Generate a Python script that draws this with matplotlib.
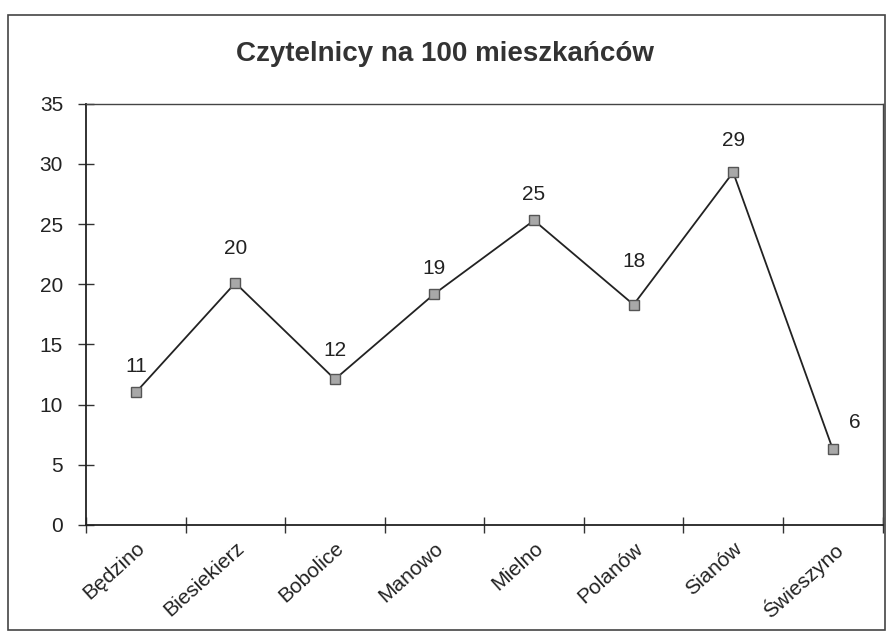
import matplotlib.pyplot as plt
from matplotlib.patches import Rectangle

plt.rcParams['font.family'] = ['Liberation Sans', 'DejaVu Sans']

gminy = ['Będzino', 'Biesiekierz', 'Bobolice', 'Manowo', 'Mielno',
         'Polanów', 'Sianów', 'Świeszyno']
czytelnicy = [11.0, 20.1, 12.1, 19.2, 25.3, 18.3, 29.3, 6.3]
etykiety = ['11', '20', '12', '19', '25', '18', '29', '6']

fig = plt.figure(figsize=(8.89, 6.44), dpi=100)
fig.patch.set_facecolor('white')

# ramka calego wykresu
fig.patches.append(Rectangle((8 / 889, 1 - 630 / 644), 877 / 889, 615 / 644,
                             transform=fig.transFigure, fill=False,
                             edgecolor='#444444', linewidth=1.2))

ax = fig.add_axes([0.0967, 0.185, 0.896, 0.654])
x = list(range(len(gminy)))
ax.plot(x, czytelnicy, color='#222222', linewidth=1.3, marker='s',
        markersize=7, markerfacecolor='#a8a8a8', markeredgecolor='#555555',
        markeredgewidth=1.0)

# przesuniecia etykiet w pikselach
offs = [(0, 26), (0, 34), (0, 29), (0, 25), (0, 26), (0, 43), (0, 32), (22, 27)]
for xi, yi, lab, (dx, dy) in zip(x, czytelnicy, etykiety, offs):
    ax.annotate(lab, (xi, yi), xytext=(dx * 0.72, dy * 0.72),
                textcoords='offset points', ha='center', va='center',
                fontsize=15, color='#222222')

ax.set_xlim(-0.5, len(gminy) - 0.5)
ax.set_ylim(0, 35)
ax.set_yticks(range(0, 36, 5))
ax.set_xticks([i - 0.5 for i in range(len(gminy) + 1)], minor=False)
ax.set_xticklabels([''] * (len(gminy) + 1))
ax.set_xticks(x, minor=True)
ax.set_xticklabels(gminy, minor=True, rotation=42, ha='right',
                   rotation_mode='anchor', fontsize=15, color='#222222')
ax.tick_params(axis='x', which='minor', length=0, pad=10)
ax.tick_params(axis='x', which='major', direction='inout', length=11,
               width=1, color='#333333')
ax.tick_params(axis='y', direction='inout', length=11, width=1,
               color='#333333', labelsize=15, labelcolor='#222222', pad=11)

for s in ['left', 'bottom']:
    ax.spines[s].set_color('#222222')
    ax.spines[s].set_linewidth(1.3)
for s in ['top', 'right']:
    ax.spines[s].set_color('#444444')
    ax.spines[s].set_linewidth(1.0)

fig.text(0.5, 1 - 54 / 644, 'Czytelnicy na 100 mieszkańców', ha='center',
         va='center', fontsize=20, fontweight='bold', color='#333333')

fig.savefig('out.png', dpi=100)
